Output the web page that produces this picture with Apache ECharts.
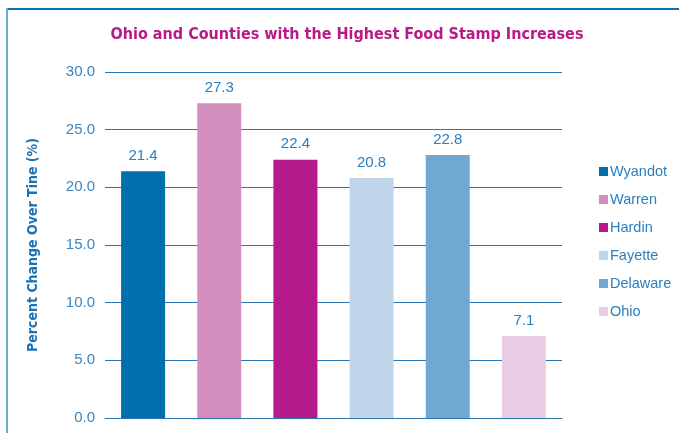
<!DOCTYPE html>
<html>
<head>
<meta charset="utf-8">
<script src="https://cdn.jsdelivr.net/npm/echarts@6/dist/echarts.min.js"></script>
<style>
html, body { margin: 0; padding: 0; background: #fff; }
#chart { width: 679px; height: 433px; }
</style>
</head>
<body>
<div id="chart"></div>
<script>
const counties = ['Wyandot', 'Warren', 'Hardin', 'Fayette', 'Delaware', 'Ohio'];
const changes = [21.4, 27.3, 22.4, 20.8, 22.8, 7.1];
const colors = ['#0070ad', '#d28fbe', '#b41a8b', '#c0d5ea', '#6fa8d2', '#e9cde4'];
const yTicks = [0, 5, 10, 15, 20, 25, 30];

const chart = echarts.init(document.getElementById('chart'));

// one series per county so the legend shows each bar
const series = counties.map(function (name, i) {
    return {
        name: name,
        type: 'bar',
        barWidth: 44,
        barGap: '-100%',
        itemStyle: { color: colors[i] },
        label: {
            show: true,
            position: 'top',
            distance: 8,
            color: '#2a7fbf',
            fontSize: 15,
            fontFamily: 'Liberation Sans',
            formatter: function (p) { return p.value.toFixed(1); }
        },
        data: changes.map(function (v, j) { return j === i ? v : '-'; })
    };
});

const option = {
    animation: false,
    title: {
        text: 'Ohio and Counties with the Highest Food Stamp Increases',
        left: 342,
        textAlign: 'center',
        top: 22,
        textStyle: {
            color: '#b81b86',
            fontSize: 16,
            fontWeight: 'bold',
            fontFamily: 'DejaVu Sans Condensed'
        }
    },
    legend: {
        orient: 'vertical',
        left: 594,
        top: 159,
        itemWidth: 9,
        itemHeight: 9,
        itemGap: 13,
        icon: 'rect',
        textStyle: { color: '#2a7fbf', fontSize: 14.5, fontFamily: 'Liberation Sans', padding: [0, 0, 0, -3] },
        data: counties
    },
    graphic: [
        { type: 'line', shape: { x1: 6, y1: 9, x2: 679, y2: 9 }, style: { stroke: '#0b72b5', lineWidth: 2 } },
        { type: 'line', shape: { x1: 7, y1: 8, x2: 7, y2: 433 }, style: { stroke: '#6aaed6', lineWidth: 2 } }
    ],
    grid: { left: 105, right: 117, top: 72, bottom: 15 },
    xAxis: {
        type: 'category',
        data: counties,
        axisLine: { lineStyle: { color: '#2b74ad', width: 1 } },
        axisTick: { show: false },
        axisLabel: { show: false }
    },
    yAxis: {
        type: 'value',
        min: yTicks[0],
        max: yTicks[yTicks.length - 1],
        interval: 5,
        name: 'Percent Change Over Tine (%)',
        nameLocation: 'middle',
        nameGap: 65,
        nameTextStyle: {
            color: '#1a72b5',
            fontSize: 14,
            fontWeight: 'bold',
            fontFamily: 'DejaVu Sans Condensed'
        },
        axisLine: { show: false },
        axisTick: { show: false },
        axisLabel: {
            color: '#3a86c0',
            fontSize: 15,
            fontFamily: 'Liberation Sans',
            margin: 10,
            formatter: function (v) { return v.toFixed(1); }
        },
        splitLine: { lineStyle: { color: '#2b74ad', width: 1 } }
    },
    series: series
};
option && chart.setOption(option);
</script>
</body>
</html>
